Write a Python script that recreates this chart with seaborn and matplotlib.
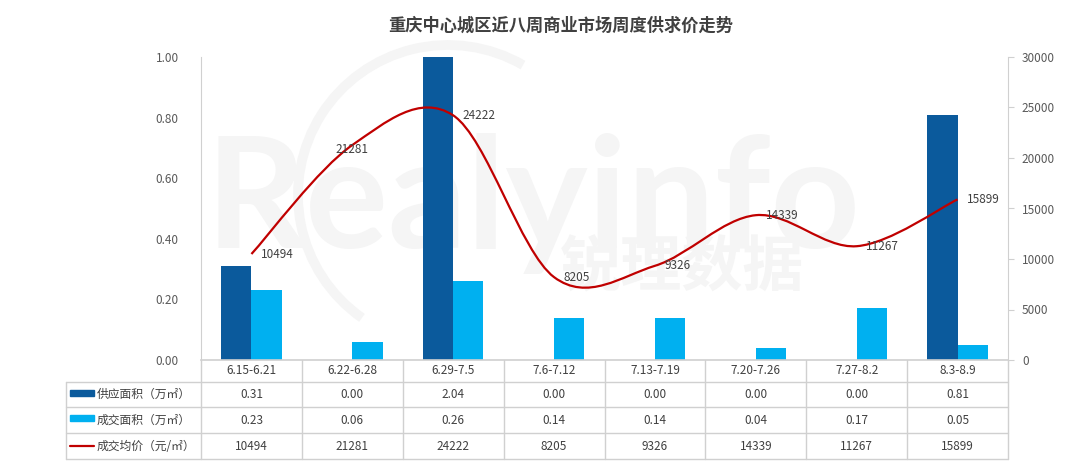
import numpy as np
import pandas as pd
import seaborn as sns
import matplotlib.pyplot as plt
from matplotlib.path import Path
from matplotlib.patches import PathPatch, Arc, Rectangle
from matplotlib.lines import Line2D
import matplotlib.transforms as mtransforms

# data
weeks = ["6.15-6.21", "6.22-6.28", "6.29-7.5", "7.6-7.12",
         "7.13-7.19", "7.20-7.26", "7.27-8.2", "8.3-8.9"]
supply = [0.31, 0.00, 2.04, 0.00, 0.00, 0.00, 0.00, 0.81]
deal = [0.23, 0.06, 0.26, 0.14, 0.14, 0.04, 0.17, 0.05]
price = [10494, 21281, 24222, 8205, 9326, 14339, 11267, 15899]

row_names = ["供应面积（万㎡）", "成交面积（万㎡）", "成交均价（元/㎡）"]
left_ticks = [0.0, 0.2, 0.4, 0.6, 0.8, 1.0]
right_ticks = [0, 5000, 10000, 15000, 20000, 25000, 30000]

c_supply = "#0B5A9C"
c_deal = "#00B0F0"
c_price = "#C00000"
c_text = "#404040"
c_grid = "#D0D0D0"
c_mark = "#F5F5F5"

sns.set_style("white")
plt.rcParams["font.family"] = ["Noto Sans CJK SC", "DejaVu Sans"]

fig = plt.figure(figsize=(10.8, 4.63), dpi=100)
ax = fig.add_axes([201 / 1080, 1 - 360 / 463, 807 / 1080, 303 / 463])
ax.set_facecolor("none")

# faint watermark behind the bars
ax.text(205 / 1080, 1 - 248 / 463, "Realyinfo", transform=fig.transFigure,
        fontsize=112, family="Lato", fontweight="bold", color=c_mark, zorder=0.1)
ax.text(560 / 1080, 1 - 285 / 463, "锐理数据", transform=fig.transFigure,
        fontsize=44, fontweight="bold", color=c_mark, zorder=0.1)
ax.add_patch(Arc((4.48, 2.68), 3.0, 3.0, theta1=60, theta2=235,
                 transform=fig.dpi_scale_trans, color=c_mark, lw=7,
                 zorder=0.1, clip_on=False))

df = pd.DataFrame({
    "week": weeks * 2,
    "value": supply + deal,
    "series": [row_names[0]] * len(weeks) + [row_names[1]] * len(weeks),
})
sns.barplot(data=df, x="week", y="value", hue="series", order=weeks,
            palette=[c_supply, c_deal], width=0.6, gap=0, saturation=1,
            linewidth=0, ax=ax, legend=False, zorder=2)

ax.set_xlim(-0.5, len(weeks) - 0.5)
ax.set_ylim(0, 1.0)
ax.set_yticks(left_ticks)
ax.set_yticklabels([f"{t:.2f}" for t in left_ticks], fontsize=8.5, color="#595959")
ax.set_xticks(range(len(weeks)))
ax.set_xticklabels([])
ax.set_xlabel("")
ax.set_ylabel("")
ax.tick_params(axis="y", length=0, pad=16)
ax.tick_params(axis="x", length=0)
for s in ["top", "right"]:
    ax.spines[s].set_visible(False)
ax.spines["left"].set_color(c_grid)
ax.spines["bottom"].set_color(c_grid)
ax.spines["bottom"].set_linewidth(1.2)

ax2 = ax.twinx()
ax2.set_ylim(0, 30000)
ax2.set_yticks(right_ticks)
ax2.set_yticklabels([str(t) for t in right_ticks], fontsize=8.5, color="#595959")
ax2.tick_params(axis="y", length=4, color=c_grid, pad=6)
for s in ["top", "left", "bottom"]:
    ax2.spines[s].set_visible(False)
ax2.spines["right"].set_color(c_grid)

# smoothed price line (Catmull-Rom as cubic Bezier)
xs = np.arange(len(price), dtype=float)
ys = np.array(price, dtype=float)
pts = np.column_stack([xs, ys])
verts = [pts[0]]
codes = [Path.MOVETO]
for i in range(len(pts) - 1):
    p0 = pts[i - 1] if i > 0 else pts[i]
    p1, p2 = pts[i], pts[i + 1]
    p3 = pts[i + 2] if i + 2 < len(pts) else pts[i + 1]
    verts += [p1 + (p2 - p0) / 6, p2 - (p3 - p1) / 6, p2]
    codes += [Path.CURVE4] * 3
ax2.add_patch(PathPatch(Path(verts, codes), fill=False, edgecolor=c_price,
                        lw=1.6, zorder=3))

for i, v in enumerate(price):
    if i == 1:
        ax2.annotate(str(v), (i, v), xytext=(0, -3), textcoords="offset points",
                     ha="center", va="center", fontsize=8.5, color=c_text)
    else:
        ax2.annotate(str(v), (i, v), xytext=(7, 0), textcoords="offset points",
                     ha="left", va="center", fontsize=8.5, color=c_text)

# data table under the plot
tr = mtransforms.blended_transform_factory(ax.transData, ax.transAxes)
px = 1 / 303
y_rows = [0, -22 * px, -47 * px, -73 * px, -99 * px]
x_left = (66 - 201) / 100.9 - 0.5
x_right = len(weeks) - 0.5
lk = dict(transform=tr, color=c_grid, lw=1, clip_on=False)
for y in y_rows[1:]:
    ax.add_line(Line2D([x_left, x_right], [y, y], **lk))
for k in range(len(weeks) + 1):
    ax.add_line(Line2D([k - 0.5, k - 0.5], [y_rows[0], y_rows[-1]], **lk))
ax.add_line(Line2D([x_left, x_left], [y_rows[1], y_rows[-1]], **lk))

for i, w in enumerate(weeks):
    ax.text(i, (y_rows[0] + y_rows[1]) / 2, w, transform=tr, ha="center",
            va="center", fontsize=8.5, color=c_text)
    ax.text(i, (y_rows[1] + y_rows[2]) / 2, f"{supply[i]:.2f}", transform=tr,
            ha="center", va="center", fontsize=8.5, color=c_text)
    ax.text(i, (y_rows[2] + y_rows[3]) / 2, f"{deal[i]:.2f}", transform=tr,
            ha="center", va="center", fontsize=8.5, color=c_text)
    ax.text(i, (y_rows[3] + y_rows[4]) / 2, str(price[i]), transform=tr,
            ha="center", va="center", fontsize=8.5, color=c_text)

sw_x0 = (70 - 201) / 100.9 - 0.5
sw_w = 24 / 100.9
for r, name in enumerate(row_names):
    yc = (y_rows[r + 1] + y_rows[r + 2]) / 2
    if r < 2:
        ax.add_patch(Rectangle((sw_x0, yc - 1 * px), sw_w, 6 * px,
                               transform=tr, color=[c_supply, c_deal][r],
                               clip_on=False))
    else:
        ax.add_line(Line2D([sw_x0, sw_x0 + sw_w], [yc, yc], transform=tr,
                           color=c_price, lw=1.6, clip_on=False))
    ax.text(sw_x0 + sw_w + 3 / 100.9, yc, name, transform=tr, ha="left",
            va="center", fontsize=8.5, color=c_text)

fig.text(561 / 1080, 1 - 26 / 463, "重庆中心城区近八周商业市场周度供求价走势",
         ha="center", va="center", fontsize=12.4, fontweight="bold", color=c_text)

fig.savefig("out.png", dpi=100)
